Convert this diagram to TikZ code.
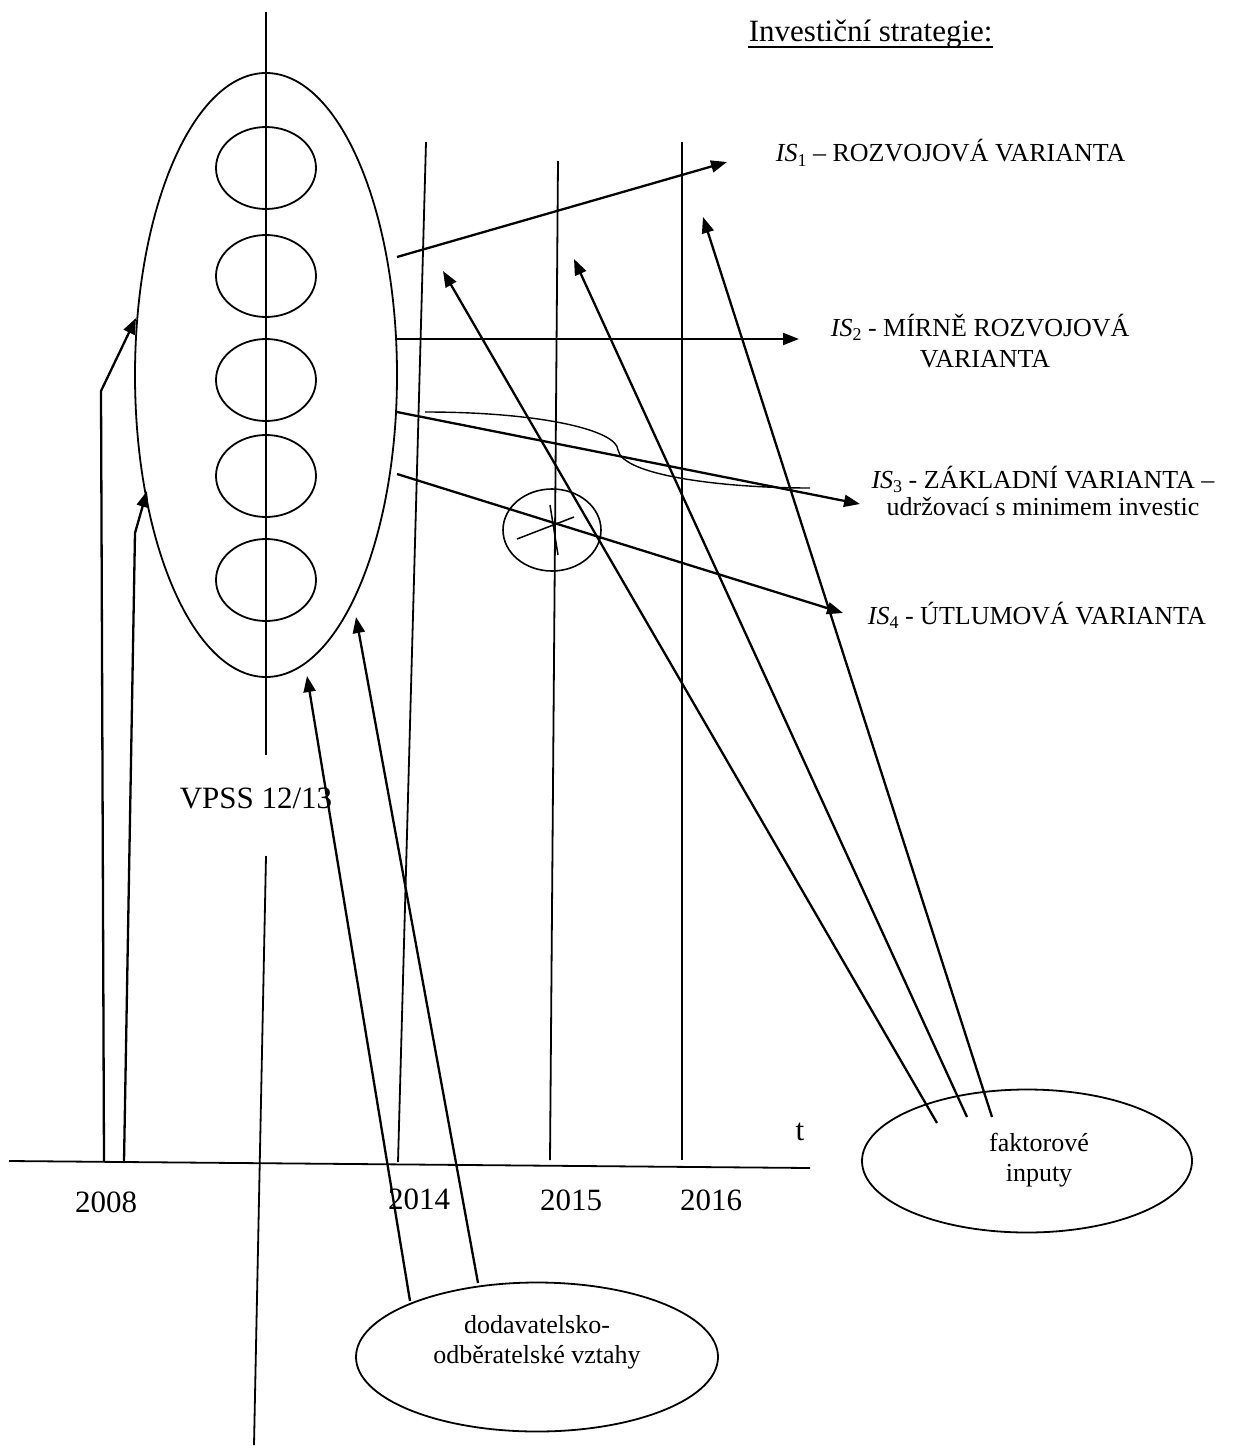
\documentclass[tikz,border=0pt]{standalone}
\usepackage{fontspec}
\setmainfont{Liberation Serif}
\usetikzlibrary{arrows.meta,shapes.geometric}
\newcommand{\ISlab}[1]{\textit{IS}\raisebox{-0.18em}{\fontsize{18}{18}\selectfont #1}}
\begin{document}
\begin{tikzpicture}[x=1pt,y=-1pt,line width=1.8pt,
  arr/.style={line width=2.3pt,-{Triangle[length=16pt,width=12pt]}},
  ell/.style={draw,ellipse,inner sep=0pt,line width=1.8pt},
  big/.style={font=\fontsize{31}{36}\selectfont,inner sep=0pt},
  mid/.style={font=\fontsize{26}{30}\selectfont,inner sep=0pt}]
\useasboundingbox (0,0) rectangle (1234,1450);

% big ellipse and inner ellipses
\node[ell,minimum width=262pt,minimum height=604pt] (vpss) at (266,375) {};
\foreach \i/\y in {1/168,2/276,3/380,4/476,5/580}
  \node[ell,minimum width=100pt,minimum height=82pt] (s\i) at (266,\y) {};

% central vertical line
\coordinate (c0) at (266,12);
\coordinate (c1) at (266,755);
\coordinate (c2) at (266,856);
\coordinate (c3) at (254,1445);
\draw (c0) -- (c1);
\draw (c2) -- (c3);
\node[big,anchor=base] (vl) at (256,808) {VPSS 12/13};

% time axis
\coordinate (ax0) at (9,1161);
\coordinate (ax1) at (810,1168);
\draw (ax0) -- (ax1);
\node[big,anchor=base] (tl) at (800,1140) {t};
\node[big,anchor=base] (y2008) at (106,1212) {2008};
\node[big,anchor=base] (y2014) at (419,1209) {2014};
\node[big,anchor=base] (y2015) at (571,1210) {2015};
\node[big,anchor=base] (y2016) at (711,1210) {2016};

% year lines
\coordinate (v14a) at (398,1162); \coordinate (v14b) at (426,142);
\coordinate (v15a) at (550,1160); \coordinate (v15b) at (558,161);
\coordinate (v16a) at (682,1160); \coordinate (v16b) at (682,142);
\draw (v14a) -- (v14b);
\draw (v15a) -- (v15b);
\draw (v16a) -- (v16b);

% 2008 arrows
\coordinate (a1) at (104,1161); \coordinate (a1m) at (101,391); \coordinate (a1t) at (136,318);
\coordinate (a2) at (124,1162); \coordinate (a2m) at (135,533); \coordinate (a2t) at (147,491);
\draw[arr] (a1) -- (a1m) -- (a1t);
\draw[arr] (a2) -- (a2m) -- (a2t);

% title
\node[big,anchor=base west] (inv) at (748,42) {Investiční strategie:};
\draw[line width=1.5pt] ([yshift=-5pt]inv.base west) -- ([yshift=-5pt]inv.base east);

% IS labels
\node[mid,anchor=base west] (is1) at (775,162) {\ISlab{1} – ROZVOJOVÁ VARIANTA};
\node[mid,anchor=base west] (is2) at (830,336) {\ISlab{2} - MÍRNĚ ROZVOJOVÁ};
\node[mid,anchor=base] (is2b) at (985,367) {VARIANTA};
\node[mid,anchor=base,align=center,font=\fontsize{26}{27}\selectfont] (is3) at (1043,515)
  {\ISlab{3} - ZÁKLADNÍ VARIANTA –\\udržovací s minimem investic};
\node[mid,anchor=base west] (is4) at (867,624) {\ISlab{4} - ÚTLUMOVÁ VARIANTA};

% strategy arrows
\coordinate (o1) at (397,257); \coordinate (t1) at (727,162);
\coordinate (o2) at (397,339); \coordinate (t2) at (799,339);
\coordinate (o3) at (397,412); \coordinate (t3) at (860,504);
\coordinate (o4) at (397,474); \coordinate (t4) at (843,613);
\draw[arr] (o1) -- (t1);
\draw[arr] (o2) -- (t2);
\draw[arr] (o3) -- (t3);
\draw[arr] (o4) -- (t4);

% loop curve around IS3 arrow
\coordinate (l0) at (425,412); \coordinate (l1) at (618,450); \coordinate (l2) at (810,488);
\draw[line width=1.4pt] (l0) .. controls (540,412) and (617,430) .. (l1)
  .. controls (622,475) and (720,488) .. (l2);

% crossed circle
\node[ell,line width=1.6pt,minimum width=98pt,minimum height=82pt] (xc) at (552,530) {};
\coordinate (x1) at (517,539); \coordinate (x2) at (574,517);
\coordinate (x3) at (550,505); \coordinate (x4) at (558,555);
\draw[line width=1.5pt] (x1) -- (x2);
\draw[line width=1.5pt] (x3) -- (x4);

% factor inputs
\node[ell,minimum width=330pt,minimum height=143pt] (fak) at (1027,1161) {};
\node[mid,align=center] (fakt) at (1039,1160) {faktorové\\inputy};
\coordinate (f1) at (937,1123); \coordinate (f1t) at (443,271);
\coordinate (f2) at (967,1117); \coordinate (f2t) at (574,259);
\coordinate (f3) at (992,1117); \coordinate (f3t) at (703,217);
\draw[arr] (f1) -- (f1t);
\draw[arr] (f2) -- (f2t);
\draw[arr] (f3) -- (f3t);

% supplier relations
\node[ell,minimum width=362pt,minimum height=149pt] (dod) at (537,1357) {};
\node[mid,align=center] (dodt) at (537,1342) {dodavatelsko-\\odběratelské vztahy};
\coordinate (d1) at (410,1301); \coordinate (d1t) at (307,676);
\coordinate (d2) at (478,1283); \coordinate (d2t) at (356,617);
\draw[arr] (d1) -- (d1t);
\draw[arr] (d2) -- (d2t);
\end{tikzpicture}
\end{document}
